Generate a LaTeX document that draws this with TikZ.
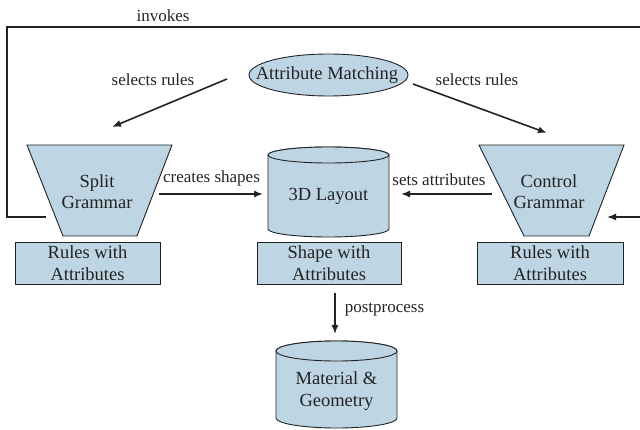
\documentclass[tikz,border=0pt]{standalone}
\usepackage{fontspec}
\setmainfont{Liberation Serif}
\usetikzlibrary{arrows.meta,calc}
\definecolor{boxfill}{RGB}{190,214,228}
\definecolor{ink}{RGB}{35,35,35}
\tikzset{
  shapefill/.style={draw=ink, line width=0.9pt, fill=boxfill},
  bigtxt/.style={font=\fontsize{18.5}{21.5}\selectfont, text=ink, align=center, inner sep=0pt},
  lbl/.style={font=\fontsize{17}{20}\selectfont, text=ink, inner sep=0pt},
  arr/.style={draw=ink, line width=1.6pt, -{Latex[length=9pt,width=7pt]}},
  link/.style={draw=ink, line width=1.8pt},
  rulebox/.style={shapefill, bigtxt, minimum width=145pt, minimum height=42pt}
}
\begin{document}
\begin{tikzpicture}[x=1pt,y=-1pt]
\useasboundingbox (0,0) rectangle (640,430);

% Attribute Matching ellipse
\draw[shapefill] (328.5,75) ellipse[x radius=79.5, y radius=21];
\node[bigtxt] (match) at (327,75) {Attribute Matching};

% Split Grammar trapezoid
\draw[shapefill] (27,145) -- (172,145) -- (137,236) -- (63,236) -- cycle;
\node[bigtxt] (split) at (97,191.5) {Split\\Grammar};

% Control Grammar trapezoid
\draw[shapefill] (479,145) -- (624,145) -- (589,236) -- (524,236) -- cycle;
\node[bigtxt] (ctrl) at (549,191.5) {Control\\Grammar};

% 3D Layout cylinder
\draw[shapefill] (268,155) -- (268,229)
  arc[start angle=180, end angle=0, x radius=60.5, y radius=8]
  -- (389,155)
  arc[start angle=0, end angle=-180, x radius=60.5, y radius=8] -- cycle;
\draw[shapefill] (328.5,155) ellipse[x radius=60.5, y radius=8];
\node[bigtxt] (layout) at (328.5,196) {3D Layout};

% Material & Geometry cylinder
\draw[shapefill] (276,351) -- (276,418)
  arc[start angle=180, end angle=0, x radius=60.5, y radius=10]
  -- (397,351)
  arc[start angle=0, end angle=-180, x radius=60.5, y radius=10] -- cycle;
\draw[shapefill] (336.5,351) ellipse[x radius=60.5, y radius=10];
\node[bigtxt] (mat) at (336.5,391) {Material \&\\Geometry};

% Attribute boxes
\node[rulebox] (r1) at (87.5,263) {Rules with\\Attributes};
\node[rulebox, minimum width=144pt] (swa) at (329,263) {Shape with\\Attributes};
\node[rulebox, minimum width=146pt] (r2) at (550,263) {Rules with\\Attributes};

% connector end points
\coordinate (invA) at (46,217);
\coordinate (invB) at (7,27);
\coordinate (invC) at (640,27);
\coordinate (invD) at (640,217);
\coordinate (invE) at (607,217);
\coordinate (slA) at (227,79);
\coordinate (slB) at (112,127);
\coordinate (srA) at (413,84);
\coordinate (srB) at (547,133);
\coordinate (csA) at (159,194);
\coordinate (csB) at (263,194);
\coordinate (saA) at (492,194);
\coordinate (saB) at (401,194);
\coordinate (ppA) at (335,293);
\coordinate (ppB) at (335,334);

% invokes loop
\draw[link] (invA) -| (invB) -- (invC);
\draw[arr] (invD) -- (invE);
\node[lbl] at (163,16) {invokes};

% selects rules
\draw[arr] (slA) -- (slB);
\node[lbl] at (153,80) {selects rules};
\draw[arr] (srA) -- (srB);
\node[lbl] at (477,80) {selects rules};

% creates shapes / sets attributes
\draw[arr] (csA) -- (csB);
\node[lbl] at (211.5,178) {creates shapes};
\draw[arr] (saA) -- (saB);
\node[lbl] at (439,180) {sets attributes};

% postprocess
\draw[arr] (ppA) -- (ppB);
\node[lbl] at (384.5,310) {postprocess};
\end{tikzpicture}
\end{document}
